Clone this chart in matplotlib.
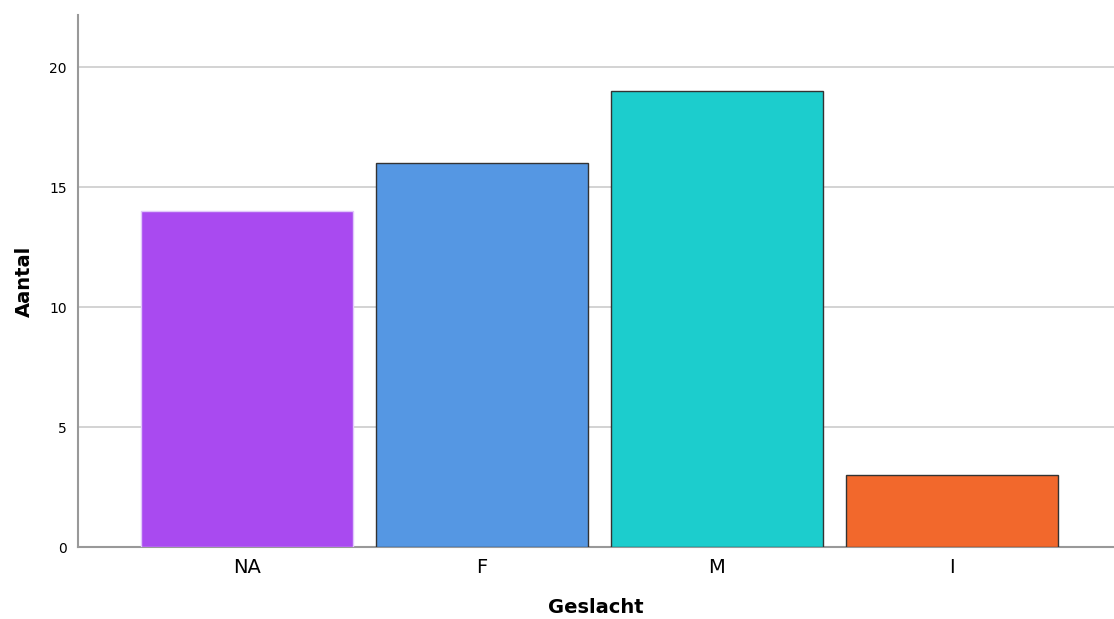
import numpy as np
import matplotlib.pyplot as plt

categories = ["NA", "F", "M", "I"]
counts = [14, 16, 19, 3]
colors = ["#a94af0", "#5597e3", "#1ccdcd", "#f2682c"]
edges = ["#e0c8fa", "#333333", "#333333", "#333333"]

fig = plt.figure(figsize=(11.14, 6.19), dpi=100)
ax = fig.add_axes([0.070, 0.1163, 0.930, 0.8595])

x = np.arange(len(categories))
bars = ax.bar(x, counts, width=0.9, color=colors, edgecolor=edges, linewidth=1.0, zorder=3)

ax.set_xlim(-0.72, 3.69)
ax.set_ylim(0, 22.17)
ax.set_yticks([0, 5, 10, 15, 20])
ax.set_xticks(x)
ax.set_xticklabels(categories, fontsize=14)
ax.tick_params(axis="y", labelsize=10, length=0, pad=8)
ax.tick_params(axis="x", length=0, pad=8)

ax.yaxis.grid(True, color="#cccccc", linewidth=1.2, zorder=0)
ax.set_axisbelow(True)
for side in ["top", "right"]:
    ax.spines[side].set_visible(False)
for side in ["left", "bottom"]:
    ax.spines[side].set_color("#999999")
    ax.spines[side].set_linewidth(1.5)

ax.set_xlabel("Geslacht", fontsize=14, fontweight="bold", labelpad=15)
ax.set_ylabel("Aantal", fontsize=14, fontweight="bold", labelpad=11)

plt.savefig("out.png", dpi=100)
